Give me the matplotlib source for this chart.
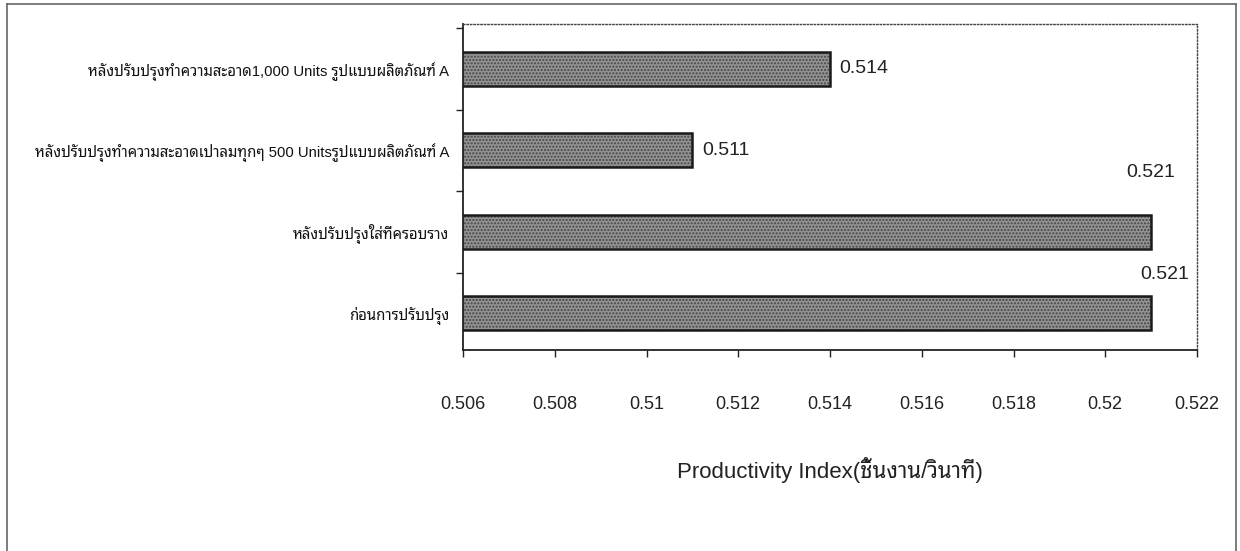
import matplotlib
matplotlib.use("Agg")
import matplotlib.pyplot as plt
from matplotlib import font_manager
from matplotlib.lines import Line2D

# ---- data ----
categories = [
    "ก่อนการปรับปรุง",
    "หลังปรับปรุงใส่ที่ครอบราง",
    "หลังปรับปรุงทำความสะอาดเป่าลมทุกๆ 500 Unitsรูปแบบผลิตภัณฑ์ A",
    "หลังปรับปรุงทำความสะอาด1,000 Units รูปแบบผลิตภัณฑ์ A",
]
values = [0.521, 0.521, 0.511, 0.514]
value_labels = ["0.521", "0.521", "0.511", "0.514"]
x_ticks = [0.506, 0.508, 0.510, 0.512, 0.514, 0.516, 0.518, 0.520, 0.522]
x_tick_labels = ["0.506", "0.508", "0.51", "0.512", "0.514", "0.516", "0.518", "0.52", "0.522"]
x_label = "Productivity Index(ชิ้นงาน/วินาที)"

# ---- fonts ----
installed = {f.name for f in font_manager.fontManager.ttflist}


def first_installed(names, default):
    for n in names:
        if n in installed:
            return n
    return default


thai_font = first_installed(
    ["Noto Sans Thai Looped", "Sarabun", "Noto Sans Thai", "Anuphan", "Athiti"], "DejaVu Sans")
latin_font = first_installed(["Liberation Sans", "Arimo", "DejaVu Sans"], "DejaVu Sans")
mixed = [latin_font, thai_font, "DejaVu Sans"]

plt.rcParams["font.family"] = mixed

fig = plt.figure(figsize=(12.4, 5.51), dpi=100)
ax = fig.add_axes([463 / 1240, 1 - 350 / 551, (1197 - 463) / 1240, (350 - 24) / 551])

pos = list(range(len(categories)))
bar_h = 0.42

# textured fill, then a crisp black outline on top
ax.barh(pos, values, height=bar_h, color="#939393", edgecolor="#444444",
        hatch=".....", linewidth=0, zorder=2)
ax.barh(pos, values, height=bar_h, color="none", edgecolor="#1a1a1a",
        linewidth=1.8, zorder=3)

ax.set_xlim(0.506, 0.522)
ax.set_ylim(-0.45, len(categories) - 0.45)

# value labels next to / above the bar ends
offsets = [(10, 28), (0, 43), (7, 0), (7, 0)]
aligns = ["center", "center", "left", "left"]
for p, v, lab, off, ha in zip(pos, values, value_labels, offsets, aligns):
    ax.annotate(lab, xy=(v, p), xytext=off, textcoords="offset points",
                ha=ha, va="center", fontsize=14, family=latin_font, color="#222222")

# x axis
ax.set_xticks(x_ticks)
ax.set_xticklabels(x_tick_labels, fontsize=13, family=latin_font, color="#222222")
ax.tick_params(axis="x", direction="out", length=5, width=1, pad=28, color="#222222")
ax.set_xlabel(x_label, fontsize=16, family=mixed, color="#222222", labelpad=32)

# y axis: ticks on category boundaries, labels at category centres
ax.set_yticks([p + 0.5 for p in pos])
ax.set_yticklabels([])
ax.tick_params(axis="y", which="major", direction="out", length=5, width=1, color="#222222")
ax.set_yticks(pos, minor=True)
ax.set_yticklabels(categories, minor=True, fontsize=10.7, family=mixed, color="#111111")
ax.tick_params(axis="y", which="minor", length=0, pad=10)

# plot-area frame: solid axes left/bottom, dotted border top/right
for s in ("left", "bottom"):
    ax.spines[s].set_color("#222222")
    ax.spines[s].set_linewidth(1.3)
for s in ("top", "right"):
    ax.spines[s].set_linestyle((0, (1, 1.5)))
    ax.spines[s].set_color("#444444")
    ax.spines[s].set_linewidth(1.0)

# outer chart border
W, H = 1240, 551
for xs, ys in (([7, 7], [0, H - 4]), ([7, 1236], [H - 4, H - 4]), ([1236, 1236], [0, H - 4])):
    fig.add_artist(Line2D([x / W for x in xs], [y / H for y in ys],
                          transform=fig.transFigure, color="#666666", linewidth=1.2))

fig.savefig("out.png", dpi=100)
